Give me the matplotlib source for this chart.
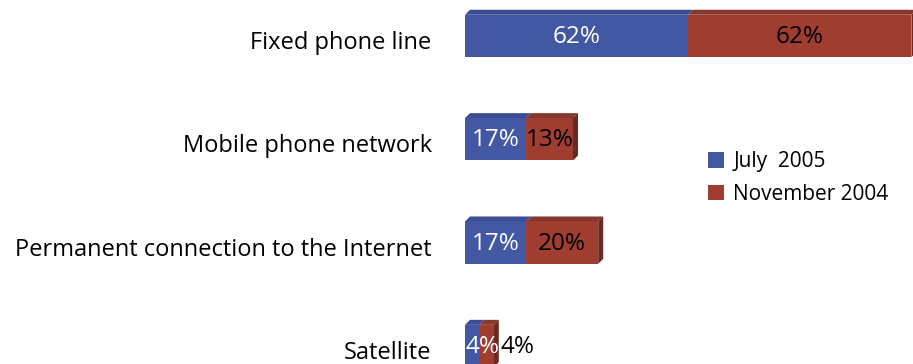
import numpy as np
import matplotlib.pyplot as plt
import matplotlib.transforms as mtransforms
from matplotlib.patches import Polygon

plt.rcParams['font.family'] = ['Open Sans', 'DejaVu Sans']

categories = ["Fixed phone line", "Mobile phone network",
              "Permanent connection to the Internet", "Satellite"]
july_2005 = [62, 17, 17, 4]
nov_2004 = [62, 13, 20, 4]
series_names = ["July  2005", "November 2004"]

blue = "#4358a3"
blue_top = "#3b4d93"
red = "#9e3d30"
red_top = "#85382b"
red_side = "#6a2a22"

fig = plt.figure(figsize=(9.13, 3.64), dpi=100)
ax = fig.add_axes([465 / 913, 0, 448 / 913, 1])
ax.set_xlim(0, 448 / 3.6)
ax.set_ylim(3 + 18 / 103.5, -36 / 103.5)

y = np.arange(len(categories))
h = 0.41
dx = 5 / 3.6      # depth in x (data units)
dy = 5 / 103.5    # depth in y (data units)

ax.barh(y, july_2005, height=h, color=blue, label=series_names[0], zorder=2)
ax.barh(y, nov_2004, left=july_2005, height=h, color=red, label=series_names[1], zorder=2)

# fake 3D faces
for i in range(len(categories)):
    top = y[i] - h / 2
    b = july_2005[i]
    r = b + nov_2004[i]
    ax.add_patch(Polygon([(0, top), (b, top), (b + dx, top - dy), (dx, top - dy)],
                         closed=True, color=blue_top, lw=0, zorder=1))
    ax.add_patch(Polygon([(b, top), (r, top), (r + dx, top - dy), (b + dx, top - dy)],
                         closed=True, color=red_top, lw=0, zorder=1))
    ax.add_patch(Polygon([(r, top), (r + dx, top - dy), (r + dx, top + h - dy), (r, top + h)],
                         closed=True, color=red_side, lw=0, zorder=1))

# value labels
for i in range(len(categories)):
    b = july_2005[i]
    r = nov_2004[i]
    ax.text(b / 2 if b > 8 else b / 2 + 3, y[i] + 0.01, f"{b}%", color="white",
            ha="center", va="center", fontsize=17.5, zorder=3)
    if r > 8:
        ax.text(b + r / 2, y[i] + 0.01, f"{r}%", color="black",
                ha="center", va="center", fontsize=17.5, zorder=3)
    else:
        ax.text(b + r + 1.8, y[i] + 0.01, f"{r}%", color="black",
                ha="left", va="center", fontsize=17.5, zorder=3)

ax.set_yticks(y)
ax.set_yticklabels(categories, fontsize=17)
ax.tick_params(axis="y", length=0, pad=24)
shift = mtransforms.ScaledTranslation(0, -4 / 100, fig.dpi_scale_trans)
for lbl in ax.get_yticklabels():
    lbl.set_transform(lbl.get_transform() + shift)
ax.set_xticks([])
for s in ax.spines.values():
    s.set_visible(False)

ax.legend(loc="upper left", bbox_to_anchor=(235 / 448, 1 - 143 / 364), frameon=False,
          fontsize=15, handlelength=0.75, handleheight=0.75, labelspacing=0.55,
          handletextpad=0.45, borderaxespad=0)

fig.savefig("out.png", dpi=100)
